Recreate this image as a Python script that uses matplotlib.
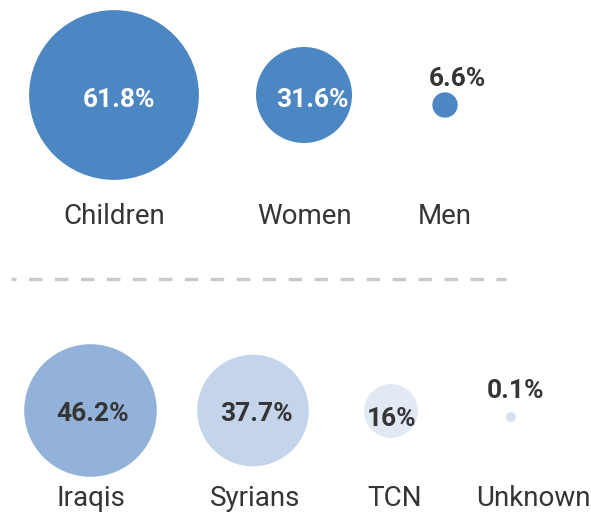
import matplotlib
matplotlib.use("Agg")
import matplotlib.pyplot as plt
from matplotlib.patches import Circle

# ---- data -------------------------------------------------------------
gender_labels = ["Children", "Women", "Men"]
gender_values = [61.8, 31.6, 6.6]
gender_text = ["61.8%", "31.6%", "6.6%"]

origin_labels = ["Iraqis", "Syrians", "TCN", "Unknown"]
origin_values = [46.2, 37.7, 16.0, 0.1]
origin_text = ["46.2%", "37.7%", "16%", "0.1%"]

# ---- style / layout ---------------------------------------------------
W, H, DPI = 591, 513, 100
SIZE_K, SIZE_P, MIN_D = 5.1, 0.85, 10.0   # bubble diameter (px) = K * value**P

TOP_BLUE = "#4D87C3"
ORIGIN_COLORS = ["#93B2DA", "#C3D4EB", "#E1E9F5", "#D6E1F1"]
TEXT_DARK = "#353535"

top_x = [114, 304, 445]
top_y = [95, 95, 105]
top_label_dx = [5, 8, 12]
top_label_y = [107, 107, 86]
top_white = [True, True, False]
top_cat_y = 224

bot_x = [90.5, 253, 391, 511]
bot_y = [410.5, 410.5, 411, 417]
bot_label_dx = [2, 3, 1, 4]
bot_label_y = [421, 421, 426, 398]
bot_cat_x_dx = [0, 2, 4, 22]
bot_cat_y = 506


def diameter(v):
    return max(SIZE_K * v ** SIZE_P, MIN_D)


plt.rcParams["font.family"] = ["Roboto", "DejaVu Sans"]
plt.rcParams["lines.scale_dashes"] = False

fig = plt.figure(figsize=(W / DPI, H / DPI), dpi=DPI)
ax = fig.add_axes([0, 0, 1, 1])
ax.set_xlim(0, W)
ax.set_ylim(H, 0)
ax.axis("off")

# top row: demographic split
for i, (lab, val, txt) in enumerate(zip(gender_labels, gender_values, gender_text)):
    ax.add_patch(Circle((top_x[i], top_y[i]), diameter(val) / 2,
                        facecolor=TOP_BLUE, edgecolor="none"))
    ax.text(top_x[i] + top_label_dx[i], top_label_y[i], txt,
            ha="center", va="baseline", fontsize=19, fontweight="bold",
            color="white" if top_white[i] else TEXT_DARK)
    ax.text(top_x[i], top_cat_y, lab, ha="center", va="baseline",
            fontsize=20, color=TEXT_DARK)

# separator
ax.plot([11, 506], [279, 279], color="#C9C9C9", lw=2.4,
        linestyle=(6.1, (9.7, 9.0)), dash_capstyle="butt")

# bottom row: nationality split
for i, (lab, val, txt) in enumerate(zip(origin_labels, origin_values, origin_text)):
    ax.add_patch(Circle((bot_x[i], bot_y[i]), diameter(val) / 2,
                        facecolor=ORIGIN_COLORS[i], edgecolor="none"))
    ax.text(bot_x[i] + bot_label_dx[i], bot_label_y[i], txt,
            ha="center", va="baseline", fontsize=19, fontweight="bold",
            color=TEXT_DARK)
    ax.text(bot_x[i] + bot_cat_x_dx[i], bot_cat_y, lab, ha="center",
            va="baseline", fontsize=20, color=TEXT_DARK)

fig.savefig("out.png", dpi=DPI, facecolor="white")
